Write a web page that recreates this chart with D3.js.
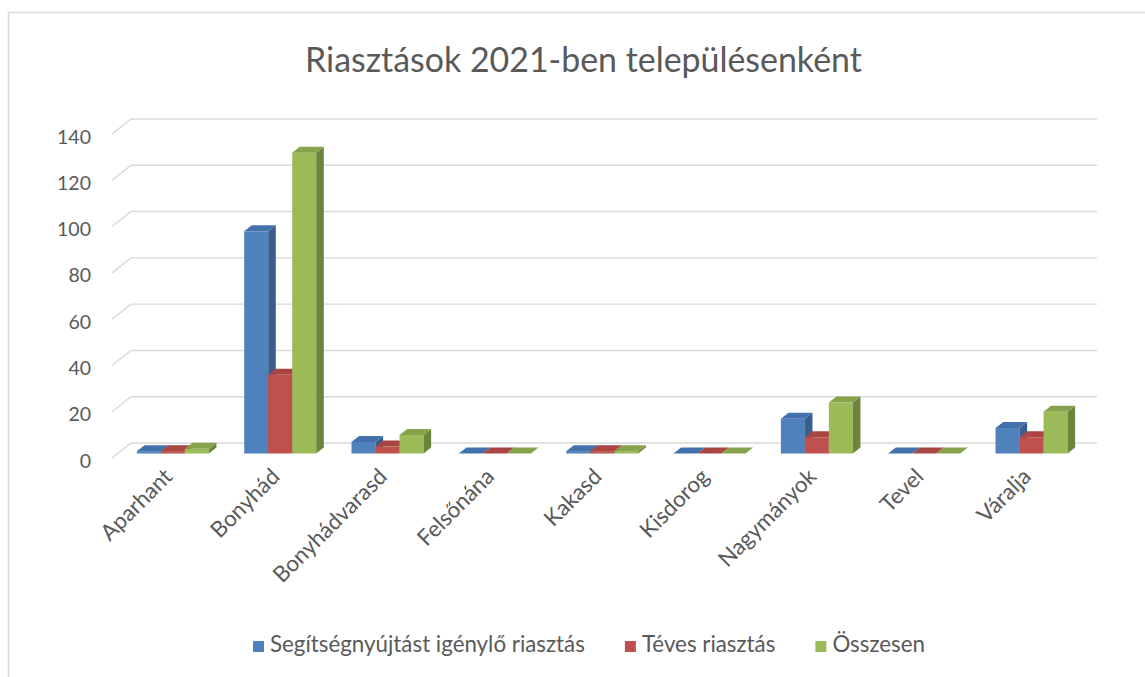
<!DOCTYPE html>
<html><head><meta charset="utf-8">
<script src="https://cdn.jsdelivr.net/npm/d3@7"></script>
<style>
html,body{margin:0;padding:0;background:#fff;}
svg{display:block;}
text{font-family:Lato,"Open Sans",sans-serif;fill:#595959;}
</style></head>
<body>
<svg id="chart" width="1145" height="677"></svg>
<script>
const title = "Riasztások 2021-ben településenként";
const categories = ["Aparhant","Bonyhád","Bonyhádvarasd","Felsőnána","Kakasd","Kisdorog","Nagymányok","Tevel","Váralja"];
const seriesNames = ["Segítségnyújtást igénylő riasztás","Téves riasztás","Összesen"];
const segitseg = [1, 96, 5, 0, 1, 0, 15, 0, 11];
const teves    = [1, 34, 3, 0, 1, 0, 7, 0, 7];
const osszesen = [2, 130, 8, 0, 1, 0, 22, 0, 18];
const yTicks = [0,20,40,60,80,100,120,140];

const seriesValues = [segitseg, teves, osszesen];
const colors = [
  {front:"#4F81BD", top:"#4371AB", side:"#385E8E"},
  {front:"#C0504D", top:"#A94643", side:"#8E3B39"},
  {front:"#9BBB59", top:"#86A34B", side:"#6C853C"}
];

const svg = d3.select("#chart");

// chart border
svg.append("rect").attr("x",8.5).attr("y",12.5).attr("width",1160).attr("height",700)
  .attr("fill","none").attr("stroke","#d9d9d9").attr("stroke-width",1.5);

function fitText(sel, target){
  const w = sel.node().getComputedTextLength();
  const fs = parseFloat(sel.attr("font-size"));
  sel.attr("font-size", (fs*target/w).toFixed(2));
  return fs*target/w;
}

// title
const t = svg.append("text").attr("x",583.5).attr("y",72).attr("text-anchor","middle")
  .attr("font-size",30).text(title);
fitText(t, 557);

// geometry
const DX = 19, DY = -15;      // full depth offset
const F1 = 0.3, F2 = 0.7;      // bar depth position
const y = d3.scaleLinear().domain([0,140]).range([458,134]);
const x = d3.scaleBand().domain(categories).range([112,1078]);
const groupW = 72;
const xs = d3.scaleBand().domain(seriesNames).range([0,groupW]);
const gOff = (x.bandwidth()-groupW)/2 + 1.5;

// gridlines (side wall diagonal + back wall)
const grid = svg.append("g");
yTicks.forEach(v=>{
  const p = d3.path();
  p.moveTo(x.range()[0], y(v));
  p.lineTo(x.range()[0]+DX, y(v)+DY);
  p.lineTo(x.range()[1]+DX, y(v)+DY);
  grid.append("path").attr("d",p.toString()).attr("fill","none")
    .attr("stroke","#d9d9d9").attr("stroke-width",1.4);
});

// y tick labels
svg.append("g").selectAll("text").data(yTicks).join("text")
  .attr("x",91).attr("y",d=>y(d)+9.5).attr("text-anchor","end")
  .attr("font-size",19.5).text(d=>d);

// bars
const bars = svg.append("g");
const bw = xs.bandwidth();
const sdx = (F2-F1)*DX, sdy = (F2-F1)*DY;
categories.forEach((c,i)=>{
  seriesNames.forEach((s,k)=>{
    const v = seriesValues[k][i];
    const fx = x(c) + gOff + xs(s) + F1*DX;
    const fyb = y(0) + F1*DY;
    const fyt = y(v) + F1*DY;
    const col = colors[k];
    bars.append("rect").attr("x",fx).attr("y",fyt).attr("width",bw).attr("height",Math.max(0,fyb-fyt))
      .attr("fill",col.front);
    bars.append("path").attr("d",
      `M${fx+bw},${fyt} L${fx+bw+sdx},${fyt+sdy} L${fx+bw+sdx},${fyb+sdy} L${fx+bw},${fyb} Z`)
      .attr("fill",col.side);
    bars.append("path").attr("d",
      `M${fx},${fyt} L${fx+bw},${fyt} L${fx+bw+sdx},${fyt+sdy} L${fx+sdx},${fyt+sdy} Z`)
      .attr("fill",col.top);
  });
});

// category labels
const cl = svg.append("g").selectAll("text").data(categories).join("text")
  .attr("text-anchor","end").attr("font-size",18)
  .attr("transform",d=>`translate(${x(d)+x.bandwidth()/2+8},${478}) rotate(-45)`)
  .text(d=>d);
{
  const n = cl.nodes()[2];
  const w = n.getComputedTextLength();
  const fs = 18*150/w;
  cl.attr("font-size",fs.toFixed(2));
}

// legend
const lg = svg.append("g");
const items = seriesNames.map((s,k)=>{
  const g = lg.append("g");
  g.append("rect").attr("width",11).attr("height",11).attr("fill",colors[k].front);
  const tx = g.append("text").attr("x",17).attr("y",11).attr("font-size",19).text(s);
  return {g, tx};
});
{
  const w = items[0].tx.node().getComputedTextLength();
  const fs = 19*315/w;
  items.forEach(it=>it.tx.attr("font-size",fs.toFixed(2)));
}
let cx = 0;
const pos = [];
items.forEach(it=>{
  pos.push(cx);
  cx += 17 + it.tx.node().getComputedTextLength() + 40;
});
const total = cx - 40;
const startX = 589 - total/2;
items.forEach((it,k)=>it.g.attr("transform",`translate(${startX+pos[k]},${641})`));
</script>
</body></html>
